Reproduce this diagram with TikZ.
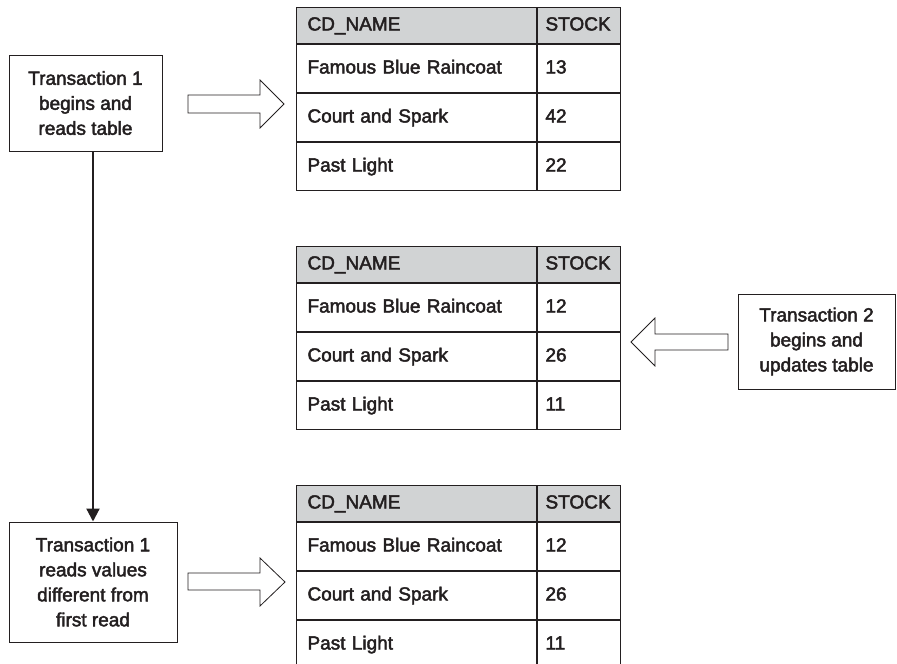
\documentclass[tikz,border=0pt]{standalone}
\usepackage{fontspec}
\setmainfont{Liberation Sans}
\usetikzlibrary{arrows.meta}
\definecolor{ink}{HTML}{231F20}
\definecolor{hdr}{HTML}{D1D3D4}
\newcommand\medwt{\special{pdf:literal direct 2 Tr 0.45 w}}
\tikzset{
  base/.style={draw=ink, line width=1pt, text=ink, font=\fontsize{19}{25}\selectfont},
  namecell/.style={base, anchor=north west, minimum width=240pt, text width=218pt, inner xsep=11pt, inner ysep=0pt, align=left, text height=14pt, text depth=4pt},
  stockcell/.style={base, anchor=north west, minimum width=83pt, text width=67pt, inner xsep=8pt, inner ysep=0pt, align=left, text height=14pt, text depth=4pt},
  hcell/.style={fill=hdr, minimum height=36pt},
  rcell/.style={minimum height=48pt},
  blockarrow/.style={draw=ink, line width=0.8pt, fill=white, line join=miter},
  flow/.style={draw=ink, line width=2.2pt, -{Triangle[width=13pt,length=13pt]}}
}
\newcommand\cdtable[5]{%
  % #1 prefix, #2 top y, #3 #4 #5 stock values
  \node[namecell,hcell] (#1h) at (296,#2) {\medwt CD\_NAME};
  \node[stockcell,hcell] (#1hs) at (#1h.north east) {\medwt STOCK};
  \node[namecell,rcell] (#1a) at (#1h.south west) {\medwt Famous Blue Raincoat};
  \node[stockcell,rcell] (#1as) at (#1a.north east) {\medwt #3};
  \node[namecell,rcell] (#1b) at (#1a.south west) {\medwt Court and Spark};
  \node[stockcell,rcell] (#1bs) at (#1b.north east) {\medwt #4};
  \node[namecell,rcell] (#1c) at (#1b.south west) {\medwt Past Light};
  \node[stockcell,rcell] (#1cs) at (#1c.north east) {\medwt #5};
}
\begin{document}
\begin{tikzpicture}[x=1pt,y=-1pt]
\useasboundingbox (0,0) rectangle (897,664);

% tables
\cdtable{ta}{7}{13}{42}{22}
\cdtable{tb}{246}{12}{26}{11}
\cdtable{tc}{485}{12}{26}{11}

% transaction boxes
\node[base, minimum width=153pt, minimum height=96pt, align=center] (b1) at (85.5,103) {\medwt Transaction 1\\\medwt begins and\\\medwt reads table};
\node[base, minimum width=157pt, minimum height=95pt, align=center] (b2) at (816.5,341.5) {\medwt Transaction 2\\\medwt begins and\\\medwt updates table};
\node[base, minimum width=168pt, minimum height=120pt, align=center] (b3) at (93,582) {\medwt Transaction 1\\\medwt reads values\\\medwt different from\\\medwt first read};

% vertical flow arrow
\draw[flow] (b3.north |- b1.south) -- (b3.north);

% block arrow 1 (b1 -> table a)
\draw[blockarrow] (188,95) -- (260,95) -- (260,80) -- (284,104) -- (260,128) -- (260,113) -- (188,113) -- cycle;

% block arrow 2 (b2 -> table b)
\draw[blockarrow] (728,334) -- (655,334) -- (655,318) -- (631,342) -- (655,366) -- (655,350) -- (728,350) -- cycle;

% block arrow 3 (b3 -> table c)
\draw[blockarrow] (188,573) -- (260,573) -- (260,558) -- (285,582) -- (260,606) -- (260,590) -- (188,590) -- cycle;
\end{tikzpicture}
\end{document}
